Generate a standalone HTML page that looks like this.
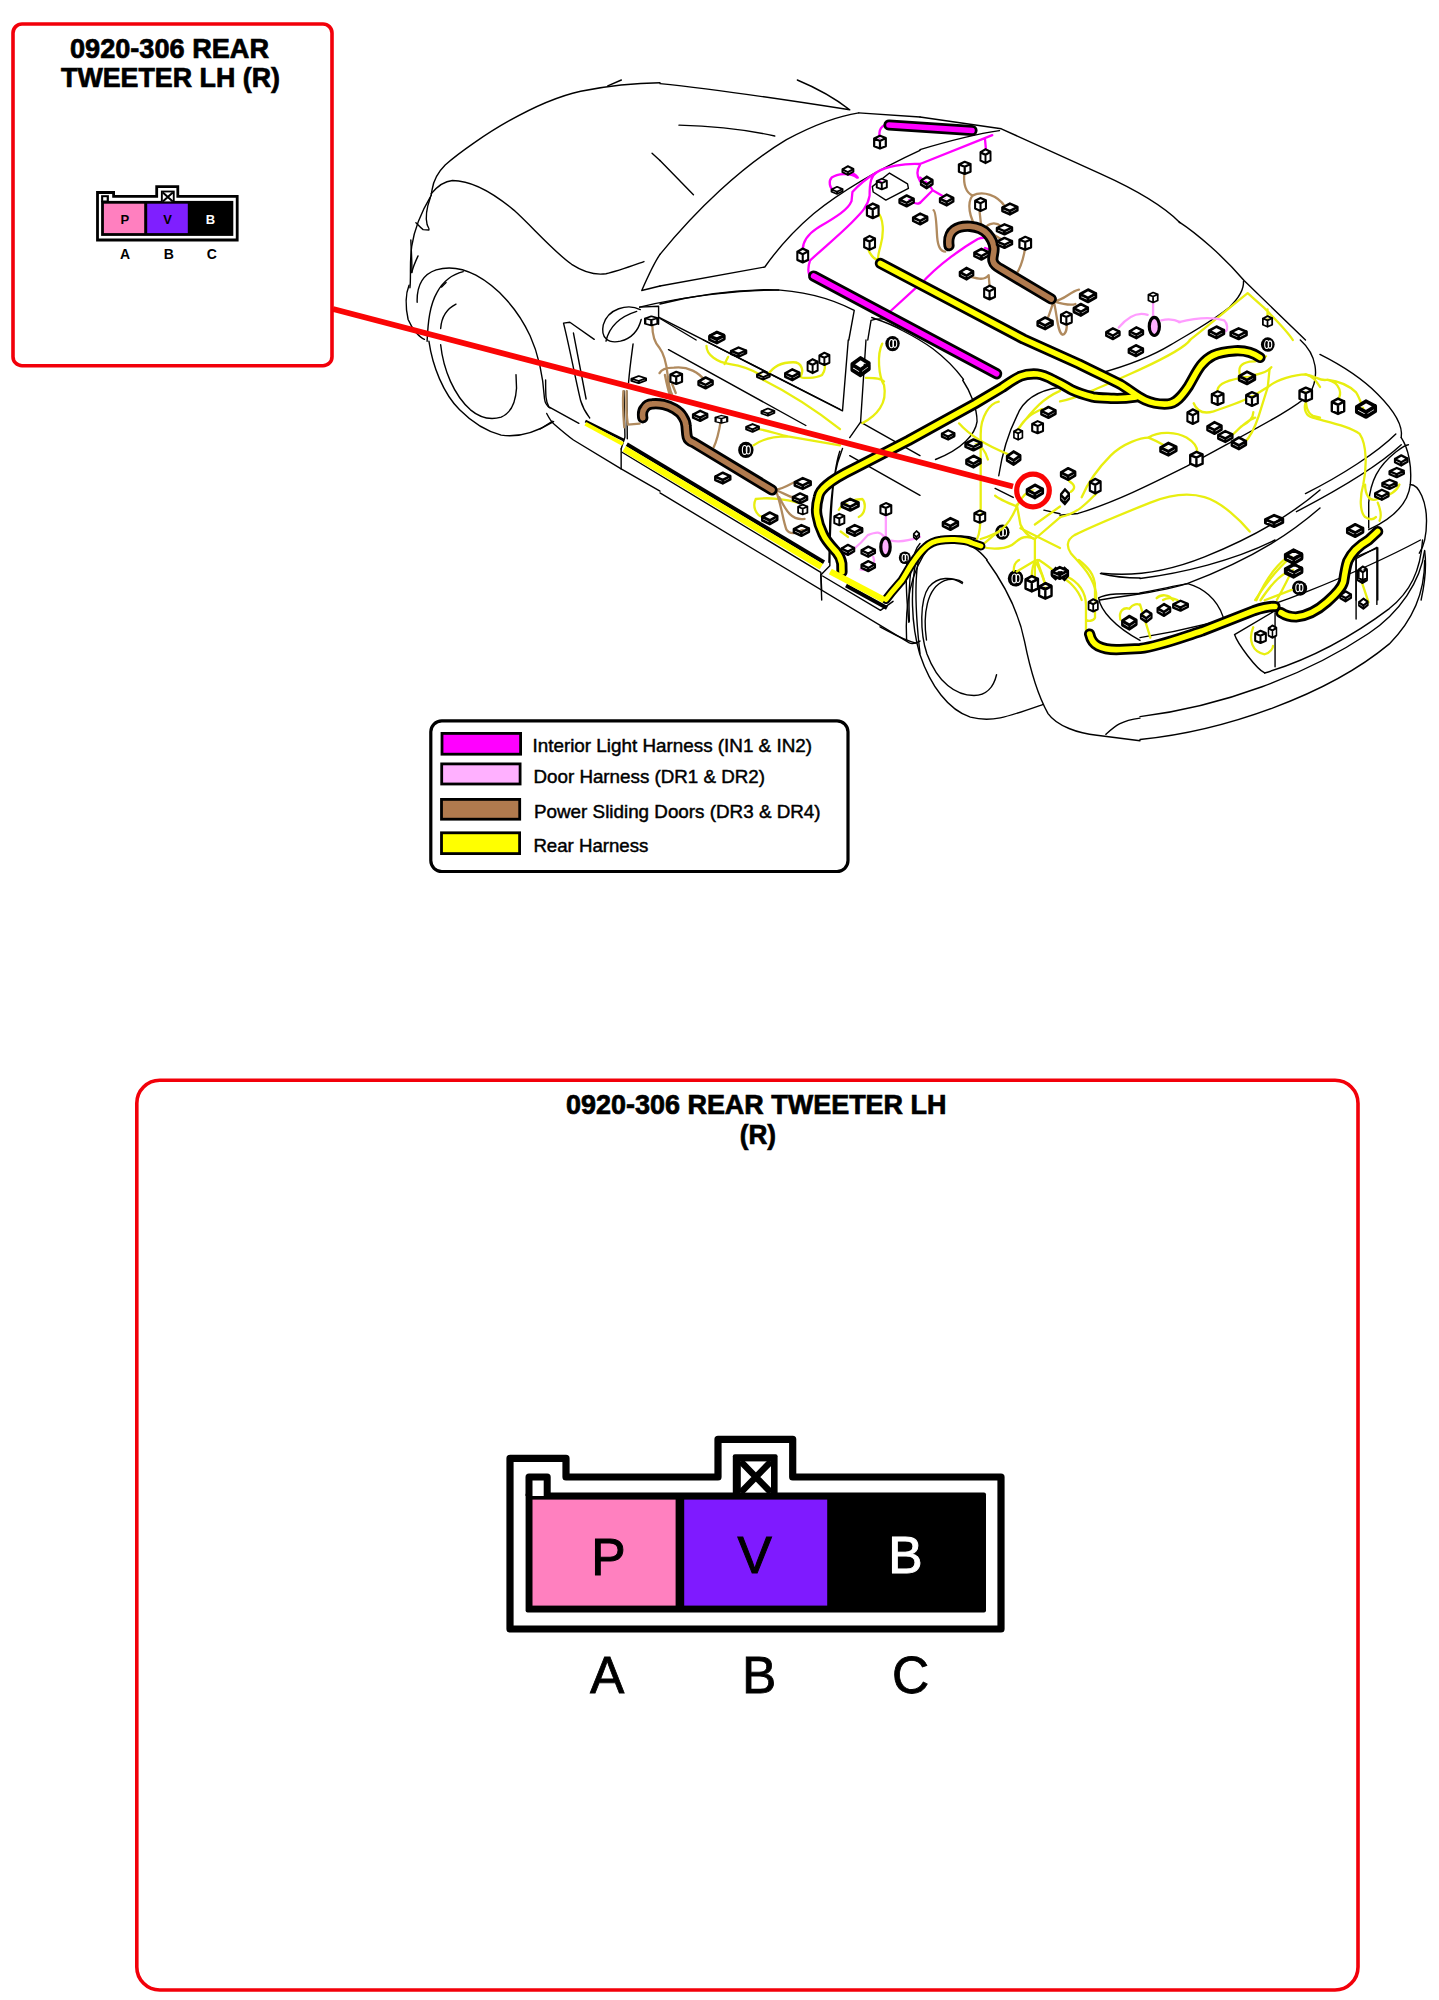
<!DOCTYPE html>
<html><head><meta charset="utf-8">
<style>
html,body{margin:0;padding:0;background:#fff;width:1439px;height:2000px;overflow:hidden}
svg{display:block;position:absolute;left:0;top:0}
text{font-family:"Liberation Sans",sans-serif}
</style></head><body>
<svg width="1439" height="2000" viewBox="0 0 1439 2000">
<rect x="0" y="0" width="1439" height="2000" fill="#fff"/>
<defs>
<symbol id="cn" viewBox="0 0 14 16" preserveAspectRatio="none" overflow="visible"><path d="M1,4.5 L7,1.5 L13,4 L13,12.5 L7,15 L1,12.5 Z M1,4.5 L7,7 L13,4 M7,7 L7,15" fill="#fff" stroke="#000" stroke-width="2.3" stroke-linejoin="round"/></symbol>
<symbol id="cf" viewBox="0 0 16 12" preserveAspectRatio="none" overflow="visible"><path d="M1,5 L8,1.5 L15,4.5 L15,7.5 L8,11 L1,8 Z M1,5 L8,8 L15,4.5 M8,8 L8,11" fill="#fff" stroke="#000" stroke-width="2.3" stroke-linejoin="round"/></symbol>
</defs>

<!-- CAR -->
<g id="car" fill="none" stroke="#000" stroke-width="1.4" stroke-linecap="round" stroke-linejoin="round">
<g transform="translate(400,80) scale(0.180681)"><path vector-effect="non-scaling-stroke" d="M1439,15 C1300,16 1150,32 1000,62 C850,95 720,160 600,228 C480,295 330,400 250,470 C205,515 185,560 178,605 C176,615 174,630 172,640"/><path vector-effect="non-scaling-stroke" d="M172,640 C130,710 80,820 65,920 C52,1010 62,1090 55,1150"/><path vector-effect="non-scaling-stroke" d="M1150,32 L1225,0"/><path vector-effect="non-scaling-stroke" d="M168,650 C150,700 140,760 150,800 C155,815 165,825 160,830 L128,828 C110,815 100,800 88,790"/><path vector-effect="non-scaling-stroke" d="M172,630 C205,590 240,560 290,556 C390,556 510,620 630,720 C730,810 850,950 950,1020 C1020,1065 1090,1080 1140,1072 C1200,1060 1280,1030 1350,1005"/><path vector-effect="non-scaling-stroke" d="M1439,965 C1406,1013 1373,1085 1338,1165 L1439,1140"/><path vector-effect="non-scaling-stroke" d="M1395,405 L1439,445"/></g>
<g transform="translate(400,240) scale(0.180681)"><path vector-effect="non-scaling-stroke" d="M60,0 C62,60 68,130 65,180"/><path vector-effect="non-scaling-stroke" d="M100,88 C85,120 72,150 65,180"/><path vector-effect="non-scaling-stroke" d="M50,250 C30,300 28,360 45,440 C70,500 110,540 135,550"/><path vector-effect="non-scaling-stroke" d="M95,345 C92,250 125,190 200,165 C270,145 345,155 420,195 C540,260 650,380 720,530 C770,640 792,760 800,880 C803,905 812,918 830,930"/><path vector-effect="non-scaling-stroke" d="M150,560 C155,450 165,360 205,290 C240,225 290,190 350,175"/><path vector-effect="non-scaling-stroke" d="M230,260 L255,235"/><path vector-effect="non-scaling-stroke" d="M225,490 C230,420 260,380 310,355"/><path vector-effect="non-scaling-stroke" d="M160,560 C180,700 240,850 330,940 C400,1010 480,1060 560,1080 C660,1095 760,1060 850,1005"/><path vector-effect="non-scaling-stroke" d="M225,580 C240,720 300,860 390,940 C450,990 510,995 560,980 C610,960 640,900 645,820 L642,745"/><path vector-effect="non-scaling-stroke" d="M806,775 C806,860 806,895 824,923 L990,1015"/><path vector-effect="non-scaling-stroke" d="M812,960 C830,995 840,1010 855,1021 C900,1060 930,1085 960,1107 L1224,1267 L1439,1390"/><path vector-effect="non-scaling-stroke" d="M775,1046 L843,1003"/><path vector-effect="non-scaling-stroke" d="M1224,1156 L1224,1267"/><path vector-effect="non-scaling-stroke" d="M905,460 C940,600 975,790 1000,890 C1015,940 1035,965 1050,985 M960,515 C985,650 1010,780 1030,880 M905,460 L940,455 L1075,550"/><path vector-effect="non-scaling-stroke" d="M1330,385 C1260,350 1150,380 1125,470 C1110,540 1150,575 1220,560 C1280,545 1320,500 1335,440 M1310,395 C1230,420 1160,470 1140,560"/><path vector-effect="non-scaling-stroke" d="M1290,575 C1280,650 1270,720 1265,790"/><path vector-effect="non-scaling-stroke" d="M1240,835 L1245,1090 L1224,1156 M1255,835 L1258,1100"/></g>
<g transform="translate(660,80) scale(0.180681)"><path vector-effect="non-scaling-stroke" d="M0,20 C300,50 700,110 1050,165 M760,0 C880,50 980,110 1050,165 M1100,182 L1439,205"/><path vector-effect="non-scaling-stroke" d="M0,965 C200,720 450,480 700,330 C850,250 980,200 1100,182"/><path vector-effect="non-scaling-stroke" d="M0,1140 L580,1035 C640,950 720,850 850,740 C1000,620 1200,500 1439,390"/><path vector-effect="non-scaling-stroke" d="M105,250 C300,255 500,280 635,310 M0,445 L185,635"/><path vector-effect="non-scaling-stroke" d="M0,1240 C150,1200 350,1165 600,1160 C800,1165 950,1210 1075,1275 L1045,1439 M0,1320 L200,1439"/><path vector-effect="non-scaling-stroke" d="M1150,1439 L1168,1330 C1230,1310 1330,1330 1439,1370"/><path vector-effect="non-scaling-stroke" d="M1175,590 L1270,515 L1370,575 L1375,600 L1250,665 L1180,620 Z"/></g>
<g transform="translate(920,80) scale(0.180681)"><path vector-effect="non-scaling-stroke" d="M0,205 L450,270 C600,340 800,430 1000,520 C1200,610 1350,700 1439,790"/><path vector-effect="non-scaling-stroke" d="M0,385 C150,340 300,300 440,280"/></g>
<g transform="translate(1179,80) scale(0.180681)"><path vector-effect="non-scaling-stroke" d="M0,785 C100,850 250,980 360,1110 L700,1439"/><path vector-effect="non-scaling-stroke" transform="scale(5.535)" d="M-79,293.2 C-60,288 -30,278 -8.4,264.9 C20,248 35,240 50.4,227.2 C60,218 65,210 64.5,201.3"/></g>
<g transform="translate(660,340) scale(0.180681)"><path vector-effect="non-scaling-stroke" d="M240,0 L1010,392 L1042,0"/><path vector-effect="non-scaling-stroke" d="M1140,0 L1110,455 L1050,540 M1110,455 L1439,640"/><path vector-effect="non-scaling-stroke" d="M1050,640 L1439,860"/><path vector-effect="non-scaling-stroke" d="M1010,600 C970,700 950,800 940,1000 L935,1230 M995,615 C960,720 942,900 940,1250 L890,1300 L895,1439"/><ellipse cx="1355.0" cy="1205.0" rx="33.25" ry="35.0" fill="#000" stroke="none"/><ellipse cx="1349.75" cy="1205.0" rx="9.8" ry="19.25" fill="none" stroke="#fff" stroke-width="1.1" vector-effect="non-scaling-stroke"/><ellipse cx="1365.5" cy="1205.0" rx="8.75" ry="17.5" fill="none" stroke="#fff" stroke-width="1.1" vector-effect="non-scaling-stroke"/><ellipse cx="1287" cy="20" rx="39.9" ry="42" fill="#000" stroke="none"/><ellipse cx="1280.7" cy="20" rx="11.760000000000002" ry="23.1" fill="none" stroke="#fff" stroke-width="1.1" vector-effect="non-scaling-stroke"/><ellipse cx="1299.6" cy="20" rx="10.5" ry="21.0" fill="none" stroke="#fff" stroke-width="1.1" vector-effect="non-scaling-stroke"/></g>
<g transform="translate(800,380) scale(0.180681)"><path vector-effect="non-scaling-stroke" d="M900,0 C940,60 980,150 980,230 C970,300 900,380 750,440"/><path vector-effect="non-scaling-stroke" d="M1439,40 C1300,60 1230,120 1200,200 C1150,300 1120,400 1100,530"/><path vector-effect="non-scaling-stroke" d="M1080,600 L1180,650 M1350,720 L1439,740"/><path vector-effect="non-scaling-stroke" d="M590,1439 C580,1250 610,1050 720,920 C800,860 900,850 980,880"/><path vector-effect="non-scaling-stroke" d="M860,900 C930,895 990,940 1035,995"/><path vector-effect="non-scaling-stroke" d="M700,1439 C680,1300 700,1150 800,1110 C840,1095 880,1105 900,1120"/><ellipse cx="1120.0" cy="842.0" rx="39.9" ry="42.0" fill="#000" stroke="none"/><ellipse cx="1113.7" cy="842.0" rx="11.760000000000002" ry="23.1" fill="none" stroke="#fff" stroke-width="1.1" vector-effect="non-scaling-stroke"/><ellipse cx="1132.6" cy="842.0" rx="10.5" ry="21.0" fill="none" stroke="#fff" stroke-width="1.1" vector-effect="non-scaling-stroke"/><ellipse cx="1195.0" cy="1095.0" rx="39.9" ry="42.0" fill="#000" stroke="none"/><ellipse cx="1188.7" cy="1095.0" rx="11.760000000000002" ry="23.1" fill="none" stroke="#fff" stroke-width="1.1" vector-effect="non-scaling-stroke"/><ellipse cx="1207.6" cy="1095.0" rx="10.5" ry="21.0" fill="none" stroke="#fff" stroke-width="1.1" vector-effect="non-scaling-stroke"/></g>
<g transform="translate(1060,340) scale(0.180681)"><path vector-effect="non-scaling-stroke" d="M1330,0 C1420,80 1440,200 1380,300 C1300,380 1100,480 700,700 C500,800 300,900 100,960 L0,970"/><path vector-effect="non-scaling-stroke" d="M1439,830 C1300,950 1100,1080 800,1200 C600,1280 400,1310 230,1290"/><path vector-effect="non-scaling-stroke" d="M1439,930 C1300,1050 1100,1200 700,1350 C500,1410 300,1420 220,1439"/><ellipse cx="1150.0" cy="25.0" rx="38.0" ry="40.0" fill="#000" stroke="none"/><ellipse cx="1144.0" cy="25.0" rx="11.200000000000001" ry="22.0" fill="none" stroke="#fff" stroke-width="1.1" vector-effect="non-scaling-stroke"/><ellipse cx="1162.0" cy="25.0" rx="10.0" ry="20.0" fill="none" stroke="#fff" stroke-width="1.1" vector-effect="non-scaling-stroke"/><ellipse cx="1330.0" cy="1375.0" rx="38.0" ry="40.0" fill="#000" stroke="none"/><ellipse cx="1324.0" cy="1375.0" rx="11.200000000000001" ry="22.0" fill="none" stroke="#fff" stroke-width="1.1" vector-effect="non-scaling-stroke"/><ellipse cx="1342.0" cy="1375.0" rx="10.0" ry="20.0" fill="none" stroke="#fff" stroke-width="1.1" vector-effect="non-scaling-stroke"/></g>
<g transform="translate(1179,340) scale(0.180681)"><path vector-effect="non-scaling-stroke" d="M780,80 C880,130 1000,200 1100,300 C1200,400 1240,480 1230,540"/><path vector-effect="non-scaling-stroke" d="M1200,520 C1100,620 900,750 700,850 M1230,580 C1100,700 900,820 650,950"/><path vector-effect="non-scaling-stroke" d="M1230,540 C1270,600 1290,700 1280,800 C1270,900 1200,980 1050,1050 M1050,1040 L1050,900 C1060,780 1100,700 1200,620 C1240,590 1260,580 1270,580"/><path vector-effect="non-scaling-stroke" d="M1280,800 C1330,800 1370,900 1370,1000 C1370,1100 1350,1150 1330,1180 M1360,1170 C1370,1250 1360,1350 1340,1439"/><path vector-effect="non-scaling-stroke" d="M1100,1439 L1100,1150 L980,1200 L980,1439"/></g>
<g transform="translate(880,560) scale(0.180681)"><path vector-effect="non-scaling-stroke" d="M200,0 C170,150 170,350 220,520 C280,700 380,830 500,870 C620,900 700,870 900,800"/><path vector-effect="non-scaling-stroke" d="M455,130 C400,90 320,90 270,150 C220,220 220,400 260,520 C320,680 420,750 520,750 C590,750 630,700 645,635"/><path vector-effect="non-scaling-stroke" d="M590,0 C700,150 770,300 800,450 C830,600 880,760 930,850 C980,920 1100,960 1200,970 L1439,1000"/><path vector-effect="non-scaling-stroke" d="M1250,965 C1300,920 1330,890 1439,875"/><path vector-effect="non-scaling-stroke" d="M150,0 C140,100 150,250 160,345 M0,370 C60,400 120,440 200,460"/><path vector-effect="non-scaling-stroke" d="M1220,75 C1300,95 1380,100 1439,100 M1439,185 C1350,185 1250,185 1210,210 C1220,280 1300,370 1439,445"/><ellipse cx="750.0" cy="102.0" rx="42.75" ry="45.0" fill="#000" stroke="none"/><ellipse cx="743.25" cy="102.0" rx="12.600000000000001" ry="24.750000000000004" fill="none" stroke="#fff" stroke-width="1.1" vector-effect="non-scaling-stroke"/><ellipse cx="763.5" cy="102.0" rx="11.25" ry="22.5" fill="none" stroke="#fff" stroke-width="1.1" vector-effect="non-scaling-stroke"/></g>
<g transform="translate(1140,540) scale(0.207783)"><path vector-effect="non-scaling-stroke" d="M0,185 C200,160 450,100 650,0"/><path vector-effect="non-scaling-stroke" d="M0,255 C100,235 200,215 230,210 C300,230 370,280 400,370"/><path vector-effect="non-scaling-stroke" d="M0,470 C300,420 550,350 800,250 C1000,170 1200,80 1350,0"/><path vector-effect="non-scaling-stroke" d="M455,455 C470,500 560,620 600,640 M650,350 L650,610 M1040,90 L1040,380 M1140,40 L1140,310 M455,455 L650,340 M1040,90 L1140,35"/><path vector-effect="non-scaling-stroke" d="M0,850 C400,800 800,650 1100,450 C1250,350 1350,200 1370,50 M0,960 C400,920 900,750 1200,500 C1320,380 1370,250 1370,100 M600,640 C800,580 1000,480 1200,330 C1300,250 1350,150 1360,0"/><ellipse cx="765.0" cy="230.0" rx="33.25" ry="35.0" fill="#000" stroke="none"/><ellipse cx="759.75" cy="230.0" rx="9.8" ry="19.25" fill="none" stroke="#fff" stroke-width="1.1" vector-effect="non-scaling-stroke"/><ellipse cx="775.5" cy="230.0" rx="8.75" ry="17.5" fill="none" stroke="#fff" stroke-width="1.1" vector-effect="non-scaling-stroke"/></g>
<g transform="translate(660,520) scale(0.180681)"><path vector-effect="non-scaling-stroke" d="M0,-150 L1380,680 C1400,690 1420,680 1439,670"/><path vector-effect="non-scaling-stroke" d="M-210,-375 L890,290 L895,390 M900,310 L1220,500 L1290,450"/><path vector-effect="non-scaling-stroke" d="M1439,130 C1400,170 1370,300 1380,560 M1439,200 C1420,240 1400,400 1439,740"/></g>
<g transform="translate(580,290) scale(0.180681)"><path vector-effect="non-scaling-stroke" d="M330,95 L435,90 L435,190"/><path vector-effect="non-scaling-stroke" d="M330,95 C600,30 900,0 1100,0"/><path vector-effect="non-scaling-stroke" d="M435,150 L1439,660"/><path vector-effect="non-scaling-stroke" d="M490,330 L1250,750"/><ellipse cx="918.0" cy="885.0" rx="42.75" ry="45.0" fill="#000" stroke="none"/><ellipse cx="911.25" cy="885.0" rx="12.600000000000001" ry="24.750000000000004" fill="none" stroke="#fff" stroke-width="1.1" vector-effect="non-scaling-stroke"/><ellipse cx="931.5" cy="885.0" rx="11.25" ry="22.5" fill="none" stroke="#fff" stroke-width="1.1" vector-effect="non-scaling-stroke"/></g>
<g transform="translate(0,0) scale(0.180681)"><path vector-effect="non-scaling-stroke" transform="scale(5.534615)" d="M871.7,317.5 C885,322 895,326 902.3,330.5 C915,337 925,343 932.9,348.8 C945,358 955,368 963.5,379.4"/></g>
<g transform="translate(660,80) scale(0.180681)"><path vector-effect="non-scaling-stroke" stroke="#ff00ff" stroke-width="2.3" d="M1215,320 C1210,280 1220,245 1280,240"/><path vector-effect="non-scaling-stroke" stroke="#ff00ff" stroke-width="2.3" d="M1090,540 C1050,510 980,520 950,540 C930,560 940,600 960,610 M1040,510 C1070,515 1085,525 1095,540"/><path vector-effect="non-scaling-stroke" stroke="#ff00ff" stroke-width="2.3" d="M1439,465 C1350,460 1250,480 1200,510 C1150,540 1100,580 1065,620 L1060,670 C1040,720 970,760 870,820 C810,860 790,900 790,940"/><path vector-effect="non-scaling-stroke" stroke="#ff00ff" stroke-width="2.3" d="M1200,510 C1170,530 1160,560 1160,640 C1150,700 1120,730 1060,790 C980,870 880,950 830,1000 C820,1030 820,1060 825,1075"/><path vector-effect="non-scaling-stroke" stroke="#ff00ff" stroke-width="2.3" d="M1439,470 C1420,500 1420,530 1439,560 M1380,660 C1400,680 1420,690 1439,680 M1439,1130 L1275,1280 M1220,560 L1230,590"/><path vector-effect="non-scaling-stroke" stroke="#e8ee10" stroke-width="2.3" d="M1200,730 C1240,760 1240,850 1220,920 C1210,960 1200,990 1210,1000 M1150,930 C1160,960 1180,990 1210,1000"/></g>
<g transform="translate(920,80) scale(0.180681)"><path vector-effect="non-scaling-stroke" stroke="#ff00ff" stroke-width="2.3" d="M0,465 L400,305 M360,330 L365,385"/><path vector-effect="non-scaling-stroke" stroke="#ff00ff" stroke-width="2.3" d="M0,540 C30,560 60,590 70,610 L140,650 M0,680 L70,610"/><path vector-effect="non-scaling-stroke" stroke="#ff00ff" stroke-width="2.3" d="M0,1135 C100,1020 250,920 320,880 C370,860 410,890 410,920 C400,940 380,940 360,930"/><path vector-effect="non-scaling-stroke" stroke="#b08a5e" stroke-width="2.3" d="M245,520 C240,580 250,620 290,640 C260,680 270,760 320,830"/><path vector-effect="non-scaling-stroke" stroke="#b08a5e" stroke-width="2.3" d="M290,640 C350,610 430,640 470,700 M330,730 L340,820"/><path vector-effect="non-scaling-stroke" stroke="#b08a5e" stroke-width="2.3" d="M360,820 C380,790 420,785 450,810 M360,830 C400,850 430,870 450,880"/><path vector-effect="non-scaling-stroke" stroke="#b08a5e" stroke-width="2.3" d="M75,720 C90,730 90,800 95,870 C100,930 120,950 140,950"/><path vector-effect="non-scaling-stroke" stroke="#b08a5e" stroke-width="2.3" d="M580,940 C570,1000 550,1050 530,1080"/><path vector-effect="non-scaling-stroke" stroke="#b08a5e" stroke-width="2.3" d="M280,1090 C320,1100 360,1110 380,1080 L385,1140"/><path vector-effect="non-scaling-stroke" stroke="#b08a5e" stroke-width="2.3" d="M740,1225 C800,1220 830,1170 880,1160 M740,1225 C790,1240 830,1250 860,1240"/><path vector-effect="non-scaling-stroke" stroke="#b08a5e" stroke-width="2.3" d="M740,1225 C760,1300 760,1400 790,1410 C820,1400 810,1350 815,1320 M740,1225 C720,1280 710,1320 700,1330"/><path vector-effect="non-scaling-stroke" stroke="#ff9cff" stroke-width="2.3" d="M1100,1370 C1150,1310 1200,1280 1260,1300 M1290,1230 L1290,1310 M1335,1330 C1380,1320 1420,1330 1439,1340"/></g>
<g transform="translate(1179,80) scale(0.180681)"><path vector-effect="non-scaling-stroke" stroke="#e8ee10" stroke-width="2.3" d="M60,1439 C150,1370 280,1260 380,1180 L470,1260 C540,1330 600,1390 630,1439 M490,1270 L490,1330"/><path vector-effect="non-scaling-stroke" stroke="#ff9cff" stroke-width="2.3" d="M0,1340 C80,1320 180,1310 250,1330 C270,1350 270,1380 260,1390"/></g>
<g transform="translate(660,340) scale(0.180681)"><path vector-effect="non-scaling-stroke" stroke="#e8ee10" stroke-width="2.3" d="M1230,20 C1200,80 1210,200 1240,250 C1260,350 1200,420 1120,460 M1140,210 C1180,210 1220,210 1240,230"/><path vector-effect="non-scaling-stroke" stroke="#e8ee10" stroke-width="2.3" d="M530,880 C510,920 530,970 570,980 M530,880 C600,870 700,880 760,900"/><path vector-effect="non-scaling-stroke" stroke="#e8ee10" stroke-width="2.3" d="M990,940 C1010,900 1080,880 1120,880 C1140,900 1140,960 1100,980 M1000,1060 L1040,1090"/><path vector-effect="non-scaling-stroke" stroke="#b08a5e" stroke-width="2.3" d="M640,830 C700,820 740,780 770,780 M640,830 C690,850 720,870 760,880 M640,830 C670,900 680,1000 700,1050 C720,1080 760,1070 790,1050 M660,870 C700,950 730,1000 800,990"/><path vector-effect="non-scaling-stroke" stroke="#ff9cff" stroke-width="2.3" d="M1000,1200 C1050,1180 1100,1140 1150,1080 C1200,1060 1220,1060 1240,1090 M1250,970 L1250,1090 M1280,1110 C1320,1120 1380,1110 1439,1090"/><path vector-effect="non-scaling-stroke" stroke="#ff9cff" stroke-width="2.3" d="M1110,1270 C1150,1280 1200,1250 1180,1200 M990,1200 C1010,1170 1040,1170 1060,1180"/></g>
<g transform="translate(800,380) scale(0.180681)"><path vector-effect="non-scaling-stroke" stroke="#e8ee10" stroke-width="2.3" d="M1000,720 L1000,300 C1000,200 1050,130 1100,120 M1000,730 C1000,800 990,860 980,880"/><path vector-effect="non-scaling-stroke" stroke="#e8ee10" stroke-width="2.3" d="M1439,60 C1350,100 1300,150 1200,280 M1210,270 C1250,200 1300,180 1340,160"/><path vector-effect="non-scaling-stroke" stroke="#e8ee10" stroke-width="2.3" d="M880,240 C950,320 1050,370 1150,410 M960,340 C1000,360 1030,400 1040,440"/><path vector-effect="non-scaling-stroke" stroke="#e8ee10" stroke-width="2.3" d="M1000,880 C1100,850 1150,820 1200,700 C1220,650 1250,620 1300,600 M1200,690 L1220,800 C1240,850 1290,880 1300,880 L1439,760"/><path vector-effect="non-scaling-stroke" stroke="#e8ee10" stroke-width="2.3" d="M1000,920 C1050,940 1150,940 1190,900 C1220,870 1260,860 1300,880 L1300,1000 L1200,1060 M1300,1000 L1300,1100 M1300,1000 C1330,1050 1350,1100 1360,1150 M1000,920 C1050,880 1080,850 1100,840"/><path vector-effect="non-scaling-stroke" stroke="#e8ee10" stroke-width="2.3" d="M1200,700 C1150,680 1100,660 1080,640 M1439,700 L1300,800 M1220,820 L1439,930"/></g>
<g transform="translate(1060,340) scale(0.180681)"><path vector-effect="non-scaling-stroke" stroke="#e8ee10" stroke-width="2.3" d="M0,340 C100,320 250,250 450,160 C600,90 700,30 720,0"/><path vector-effect="non-scaling-stroke" stroke="#e8ee10" stroke-width="2.3" d="M870,290 C870,250 900,230 1000,210 C1100,190 1150,180 1170,150 M1000,210 C980,150 1000,130 1050,120 C1100,120 1130,100 1140,90"/><path vector-effect="non-scaling-stroke" stroke="#e8ee10" stroke-width="2.3" d="M740,350 C760,400 800,410 850,395 C950,360 1050,330 1150,260 C1200,220 1300,190 1360,190 C1400,200 1420,230 1439,260"/><path vector-effect="non-scaling-stroke" stroke="#e8ee10" stroke-width="2.3" d="M1160,160 L1150,260 L1100,420 C1080,480 1050,540 1020,570 M1000,480 C1060,450 1070,420 1070,400 M960,520 C1000,480 1050,440 1080,430"/><path vector-effect="non-scaling-stroke" stroke="#e8ee10" stroke-width="2.3" d="M1360,290 C1360,350 1360,400 1400,420 L1439,430"/><path vector-effect="non-scaling-stroke" stroke="#e8ee10" stroke-width="2.3" d="M490,540 C550,500 650,510 700,540 C750,570 760,600 760,620 M490,540 C540,560 570,580 590,590"/><path vector-effect="non-scaling-stroke" stroke="#e8ee10" stroke-width="2.3" d="M0,980 C100,960 150,900 200,850 M120,870 C150,800 200,720 280,640 C350,570 450,540 490,540 M50,780 C80,800 90,820 60,840"/><path vector-effect="non-scaling-stroke" stroke="#e8ee10" stroke-width="2.3" d="M1050,1060 C1000,1000 900,900 800,870 C700,840 600,860 500,900 C350,960 200,1020 80,1080 C30,1110 40,1150 60,1180 C120,1250 180,1300 200,1400 L200,1439"/><path vector-effect="non-scaling-stroke" stroke="#e8ee10" stroke-width="2.3" d="M0,1310 C50,1330 100,1380 120,1439"/><path vector-effect="non-scaling-stroke" stroke="#e8ee10" stroke-width="2.3" d="M1080,1439 C1150,1330 1220,1250 1280,1200 M1200,1439 C1250,1350 1270,1300 1290,1270 M570,1439 C600,1420 630,1430 650,1439"/></g>
<g transform="translate(1179,340) scale(0.180681)"><path vector-effect="non-scaling-stroke" stroke="#e8ee10" stroke-width="2.3" d="M700,190 C760,200 780,230 820,220 C900,240 900,300 880,330 M820,220 C900,230 950,260 980,290 C1000,320 1010,360 1020,380"/><path vector-effect="non-scaling-stroke" stroke="#e8ee10" stroke-width="2.3" d="M700,350 C690,380 700,420 740,430 C850,460 950,480 1000,520 C1040,580 1040,700 1020,800 C1000,870 1000,950 1030,980 C1060,1000 1080,990 1090,980"/><path vector-effect="non-scaling-stroke" stroke="#e8ee10" stroke-width="2.3" d="M1030,800 C1030,850 1050,900 1100,880 C1150,860 1200,850 1220,800 M1100,900 C1120,950 1120,980 1110,1000"/></g>
<g transform="translate(880,560) scale(0.180681)"><path vector-effect="non-scaling-stroke" stroke="#e8ee10" stroke-width="2.3" d="M740,60 C740,30 750,10 770,0 M840,90 C840,50 850,20 860,0 M910,120 C900,80 880,40 870,0 M960,60 C940,40 910,20 880,0"/><path vector-effect="non-scaling-stroke" stroke="#e8ee10" stroke-width="2.3" d="M1030,90 C1100,120 1140,180 1140,250 L1140,390 M1100,0 C1150,40 1190,80 1190,150 L1190,320 C1180,340 1150,340 1140,330"/><path vector-effect="non-scaling-stroke" stroke="#e8ee10" stroke-width="2.3" d="M1330,330 C1320,280 1350,260 1380,270 C1400,240 1430,240 1439,250"/></g>
<g transform="translate(1140,540) scale(0.207783)"><path vector-effect="non-scaling-stroke" stroke="#e8ee10" stroke-width="2.3" d="M560,290 C600,200 650,130 700,90 M580,290 C620,230 660,180 700,160 M600,290 L730,240"/><path vector-effect="non-scaling-stroke" stroke="#e8ee10" stroke-width="2.3" d="M545,420 C520,480 540,540 600,550 C630,540 640,520 640,510 M1060,180 L1100,300"/><path vector-effect="non-scaling-stroke" stroke="#e8ee10" stroke-width="2.3" d="M0,310 L50,470 M80,280 C100,260 140,260 160,290"/></g>
<g transform="translate(580,290) scale(0.180681)"><path vector-effect="non-scaling-stroke" stroke="#b08a5e" stroke-width="2.3" d="M400,190 C400,250 410,290 440,320 C470,360 480,420 485,470 C490,520 500,560 510,580 M440,460 C450,440 480,430 520,430 C600,420 660,460 690,500 M470,470 C480,520 490,560 500,590 M510,520 L530,570"/><path vector-effect="non-scaling-stroke" stroke="#b08a5e" stroke-width="2.3" d="M240,560 C235,620 240,700 245,760 M258,560 C255,640 258,700 265,745 L330,740"/><path vector-effect="non-scaling-stroke" stroke="#b08a5e" stroke-width="2.3" d="M780,720 C770,780 760,830 740,870"/><path vector-effect="non-scaling-stroke" stroke="#e8ee10" stroke-width="2.3" d="M700,310 C700,360 760,400 830,410 C900,420 950,440 1000,470 M820,370 L800,410"/><path vector-effect="non-scaling-stroke" stroke="#e8ee10" stroke-width="2.3" d="M1040,470 C1070,420 1120,400 1180,400 C1230,400 1240,450 1220,480 C1230,490 1300,490 1340,470 C1360,440 1360,420 1350,400"/><path vector-effect="non-scaling-stroke" stroke="#e8ee10" stroke-width="2.3" d="M1000,490 C1100,540 1250,620 1439,770"/><path vector-effect="non-scaling-stroke" stroke="#e8ee10" stroke-width="2.3" d="M960,860 C1000,830 1050,810 1150,810 L1439,860 M990,770 C1050,780 1100,800 1150,810"/></g>
<g stroke-linecap="round"><path stroke-width="11.2" d="M889,125 L972,130.5"/><path stroke-width="11.2" d="M813.6,276 L996.7,373.8"/><path stroke-width="11.2" d="M880.4,263.4 L1023.4,339 L1079,364 C1095,372 1110,379 1120.7,384.5 C1130,390 1136,396 1145,400 C1152,403 1160,404.5 1167.6,404 C1176,403.5 1182,396 1188.5,386.3 C1194,377 1196,372 1201,365.4 C1208,357 1215,352 1235,350.8 C1248,350 1255,354 1260,357.5"/><path stroke-width="11.2" d="M1136,397 C1125,398.5 1118,398.6 1113.7,398.4 C1105,398 1098,398 1092.9,397 C1085,395 1078,393 1072,390 C1065,386 1060,383 1054,380.3 C1048,377 1043,374.5 1037.3,374 C1030,373.5 1026,374 1020.6,376.1 C1014,379 1008,383.5 1002.5,387.3 L974.7,403.9 L908.4,440.5 L854.2,468.5 C845,473 835,478 827.1,484.8 C822,489 819,493 818.5,497 C816.5,504 816,510 817,515.5 C818,522 820,528 823,534 C826,541 831,546 836.5,552 C839,555 841,559 841.8,563.4 L842,572"/><path stroke-width="2.8" stroke-linecap="butt" d="M585.3,421 L624.2,440.3"/><path stroke-width="4" stroke-linecap="butt" d="M626.8,444.3 L824,562.2"/><path stroke-width="4" stroke-linecap="butt" d="M846,585.5 L887,608"/><path stroke-width="9" d="M886,599.5 C893,590 898,585 901.7,580.6 C906,574 909,568 912.8,562.5 C917,556 921,551 925.3,547.3 C930,543 935,541 940.6,540.3 C945,539.5 950,539.5 954.5,539.6 C962,540 968,541 972,543 L980.9,546"/><path stroke-width="11.2" d="M949,245.7 C948,238 950,233 954,230 C958,227 965,226 970,226.3 C978,227 984,230 987.5,234 C991,238 993.5,242 994,248 C994.5,253 992,257 993,261 C994,265 997,267 1001,269 L1051.3,299"/><path stroke-width="11.2" d="M642.8,417.8 C642,413 643,410 644.5,408.3 C646,405.5 649,404 652.2,403.9 C656,403.5 660,403.8 663.4,404.5 C667,405.3 671,406.8 674.5,408.9 C678,411 681,413.5 682.8,416.7 C685,420 686,423 686.1,426.1 C686.5,430 686.5,434 687.3,437.2 C688,440 690,441.5 693.9,442.8 L772,490"/><path stroke-width="11.2" d="M1089.6,634 C1091,640 1094,644 1098,646 C1104,649 1110,650 1120,649.5 L1140,648.5 C1160,646 1180,638 1202,631 L1254,610.6 C1262,608 1270,606 1275,606.5 M1281,612.7 C1286,616 1290,617 1296,617 C1306,616 1318,610 1327,602 C1336,594 1342,588 1343.6,581.6 C1345,572 1346,566 1347.8,561 C1352,552 1360,545 1368.6,540 L1377.7,531.5"/><path stroke="#ff00ff" stroke-width="5.6" d="M889,125 L972,130.5"/><path stroke="#ff00ff" stroke-width="5.6" d="M813.6,276 L996.7,373.8"/><path stroke="#ffff00" stroke-width="5.6" d="M880.4,263.4 L1023.4,339 L1079,364 C1095,372 1110,379 1120.7,384.5 C1130,390 1136,396 1145,400 C1152,403 1160,404.5 1167.6,404 C1176,403.5 1182,396 1188.5,386.3 C1194,377 1196,372 1201,365.4 C1208,357 1215,352 1235,350.8 C1248,350 1255,354 1260,357.5"/><path stroke="#ffff00" stroke-width="5.6" d="M1136,397 C1125,398.5 1118,398.6 1113.7,398.4 C1105,398 1098,398 1092.9,397 C1085,395 1078,393 1072,390 C1065,386 1060,383 1054,380.3 C1048,377 1043,374.5 1037.3,374 C1030,373.5 1026,374 1020.6,376.1 C1014,379 1008,383.5 1002.5,387.3 L974.7,403.9 L908.4,440.5 L854.2,468.5 C845,473 835,478 827.1,484.8 C822,489 819,493 818.5,497 C816.5,504 816,510 817,515.5 C818,522 820,528 823,534 C826,541 831,546 836.5,552 C839,555 841,559 841.8,563.4 L842,572"/><path stroke="#ffff00" stroke-width="4" stroke-linecap="butt" d="M585.4,423.8 L622.9,444"/><path stroke="#ffff00" stroke-width="6.4" stroke-linecap="butt" transform="translate(0.3,-0.5)" d="M623.9,449.3 L821,567.2"/><path stroke="#ffff00" stroke-width="6.4" stroke-linecap="butt" transform="translate(0.3,-0.5)" d="M830,572 L884,600.5"/><path stroke="#ffff00" stroke-width="5" d="M886,599.5 C893,590 898,585 901.7,580.6 C906,574 909,568 912.8,562.5 C917,556 921,551 925.3,547.3 C930,543 935,541 940.6,540.3 C945,539.5 950,539.5 954.5,539.6 C962,540 968,541 972,543 L980.9,546"/><path stroke="#b07a4e" stroke-width="5.6" d="M949,245.7 C948,238 950,233 954,230 C958,227 965,226 970,226.3 C978,227 984,230 987.5,234 C991,238 993.5,242 994,248 C994.5,253 992,257 993,261 C994,265 997,267 1001,269 L1051.3,299"/><path stroke="#b07a4e" stroke-width="5.6" d="M642.8,417.8 C642,413 643,410 644.5,408.3 C646,405.5 649,404 652.2,403.9 C656,403.5 660,403.8 663.4,404.5 C667,405.3 671,406.8 674.5,408.9 C678,411 681,413.5 682.8,416.7 C685,420 686,423 686.1,426.1 C686.5,430 686.5,434 687.3,437.2 C688,440 690,441.5 693.9,442.8 L772,490"/><path stroke="#ffff00" stroke-width="5.6" d="M1089.6,634 C1091,640 1094,644 1098,646 C1104,649 1110,650 1120,649.5 L1140,648.5 C1160,646 1180,638 1202,631 L1254,610.6 C1262,608 1270,606 1275,606.5 M1281,612.7 C1286,616 1290,617 1296,617 C1306,616 1318,610 1327,602 C1336,594 1342,588 1343.6,581.6 C1345,572 1346,566 1347.8,561 C1352,552 1360,545 1368.6,540 L1377.7,531.5"/></g>
<g transform="translate(920,80) scale(0.180681)"><ellipse vector-effect="non-scaling-stroke" cx="1297" cy="1364" rx="28" ry="50" fill="#ffb0ff" stroke="#000" stroke-width="3.2"/></g>
<g transform="translate(660,340) scale(0.180681)"><ellipse vector-effect="non-scaling-stroke" cx="1248" cy="1145" rx="26" ry="50" fill="#ffb0ff" stroke="#000" stroke-width="3.2"/></g>
<g transform="translate(660,80) scale(0.180681)"><use href="#cn" x="1180" y="300" width="75" height="85"/><use href="#cf" x="1005" y="470" width="70" height="60"/><use href="#cf" x="945" y="585" width="70" height="50"/><use href="#cn" x="1195" y="540" width="65" height="70"/><use href="#cf" x="1320" y="630" width="90" height="75"/><use href="#cn" x="1140" y="675" width="75" height="95"/><use href="#cn" x="1125" y="855" width="70" height="90"/><use href="#cn" x="755" y="925" width="70" height="90"/><use href="#cf" x="1395" y="730" width="90" height="75"/><use href="#cf" x="270" y="1385" width="90" height="70"/></g>
<g transform="translate(920,80) scale(0.180681)"><use href="#cn" x="330" y="375" width="65" height="90"/><use href="#cn" x="210" y="445" width="75" height="80"/><use href="#cf" x="0" y="525" width="75" height="80"/><use href="#cf" x="105" y="625" width="85" height="75"/><use href="#cn" x="300" y="645" width="70" height="85"/><use href="#cf" x="450" y="675" width="95" height="75"/><use href="#cf" x="420" y="790" width="95" height="70"/><use href="#cf" x="420" y="865" width="95" height="70"/><use href="#cn" x="545" y="860" width="75" height="85"/><use href="#cf" x="295" y="925" width="90" height="75"/><use href="#cf" x="215" y="1030" width="85" height="80"/><use href="#cn" x="350" y="1130" width="70" height="90"/><use href="#cf" x="880" y="1150" width="100" height="85"/><use href="#cf" x="845" y="1230" width="90" height="80"/><use href="#cn" x="775" y="1275" width="70" height="85"/><use href="#cf" x="645" y="1305" width="95" height="80"/><use href="#cn" x="1260" y="1170" width="60" height="65"/><use href="#cf" x="1025" y="1365" width="85" height="75"/><use href="#cf" x="1155" y="1360" width="85" height="75"/></g>
<g transform="translate(1179,80) scale(0.180681)"><use href="#cf" x="160" y="1355" width="95" height="80"/><use href="#cf" x="280" y="1365" width="100" height="75"/><use href="#cn" x="460" y="1300" width="60" height="70"/></g>
<g transform="translate(660,340) scale(0.180681)"><use href="#cf" x="1055" y="85" width="110" height="120"/><use href="#cf" x="300" y="725" width="95" height="75"/><use href="#cf" x="740" y="755" width="100" height="75"/><use href="#cf" x="730" y="840" width="90" height="70"/><use href="#cn" x="760" y="905" width="60" height="65"/><use href="#cf" x="735" y="1015" width="95" height="75"/><use href="#cf" x="560" y="945" width="95" height="80"/><use href="#cf" x="1000" y="870" width="105" height="80"/><use href="#cn" x="960" y="955" width="65" height="75"/><use href="#cf" x="1030" y="1015" width="95" height="75"/><use href="#cf" x="1000" y="1125" width="80" height="70"/><use href="#cn" x="1215" y="895" width="70" height="80"/><use href="#cf" x="1110" y="1135" width="85" height="70"/><use href="#cf" x="1110" y="1215" width="85" height="70"/><use href="#cf" x="1400" y="1050" width="39" height="60"/></g>
<g transform="translate(800,380) scale(0.180681)"><use href="#cf" x="1330" y="140" width="90" height="75"/><use href="#cn" x="1280" y="220" width="70" height="80"/><use href="#cn" x="1180" y="265" width="55" height="70"/><use href="#cf" x="1140" y="385" width="85" height="90"/><use href="#cf" x="910" y="320" width="100" height="75"/><use href="#cf" x="915" y="410" width="90" height="80"/><use href="#cf" x="780" y="270" width="80" height="65"/><use href="#cn" x="960" y="715" width="70" height="80"/><use href="#cf" x="785" y="755" width="95" height="80"/><use href="#cf" x="1250" y="570" width="100" height="90"/><use href="#cn" x="1245" y="1080" width="75" height="90"/><use href="#cn" x="1325" y="1115" width="70" height="95"/><use href="#cf" x="1390" y="1030" width="49" height="80"/></g>
<g transform="translate(1060,340) scale(0.180681)"><use href="#cf" x="375" y="20" width="90" height="75"/><use href="#cf" x="985" y="165" width="100" height="85"/><use href="#cn" x="835" y="275" width="75" height="90"/><use href="#cn" x="1025" y="280" width="75" height="90"/><use href="#cn" x="700" y="375" width="70" height="95"/><use href="#cf" x="810" y="445" width="90" height="80"/><use href="#cf" x="870" y="495" width="90" height="75"/><use href="#cf" x="945" y="530" width="90" height="80"/><use href="#cf" x="550" y="560" width="100" height="85"/><use href="#cn" x="715" y="610" width="80" height="95"/><use href="#cn" x="160" y="760" width="70" height="95"/><use href="#cf" x="0" y="700" width="90" height="80"/><use href="#cf" x="0" y="815" width="55" height="100"/><use href="#cn" x="1320" y="255" width="80" height="90"/><use href="#cf" x="1130" y="960" width="110" height="80"/><use href="#cf" x="1240" y="1150" width="105" height="90"/><use href="#cf" x="1240" y="1230" width="105" height="90"/><use href="#cf" x="0" y="1250" width="50" height="85"/></g>
<g transform="translate(1179,340) scale(0.180681)"><use href="#cn" x="840" y="315" width="80" height="100"/><use href="#cf" x="975" y="325" width="120" height="110"/><use href="#cf" x="1190" y="630" width="80" height="70"/><use href="#cf" x="1160" y="700" width="90" height="65"/><use href="#cf" x="1120" y="765" width="90" height="65"/><use href="#cf" x="1080" y="820" width="85" height="70"/><use href="#cf" x="925" y="1010" width="100" height="85"/><use href="#cn" x="985" y="1250" width="60" height="100"/></g>
<g transform="translate(880,560) scale(0.180681)"><use href="#cn" x="800" y="80" width="80" height="100"/><use href="#cn" x="875" y="120" width="80" height="100"/><use href="#cf" x="945" y="30" width="100" height="80"/><use href="#cn" x="1150" y="210" width="60" height="80"/><use href="#cf" x="1335" y="300" width="90" height="90"/></g>
<g transform="translate(1140,540) scale(0.207783)"><use href="#cf" x="695" y="40" width="90" height="80"/><use href="#cf" x="700" y="110" width="85" height="70"/><use href="#cf" x="0" y="330" width="60" height="70"/><use href="#cf" x="80" y="300" width="70" height="70"/><use href="#cf" x="155" y="285" width="80" height="60"/><use href="#cn" x="550" y="430" width="60" height="70"/><use href="#cn" x="615" y="405" width="45" height="70"/><use href="#cn" x="1050" y="120" width="45" height="80"/><use href="#cf" x="960" y="240" width="60" height="60"/><use href="#cf" x="1050" y="275" width="50" height="60"/></g>
<g transform="translate(580,290) scale(0.180681)"><use href="#cn" x="355" y="140" width="80" height="60"/><use href="#cf" x="710" y="225" width="95" height="75"/><use href="#cf" x="830" y="310" width="95" height="65"/><use href="#cf" x="975" y="445" width="80" height="55"/><use href="#cf" x="1130" y="430" width="90" height="75"/><use href="#cn" x="1255" y="375" width="65" height="90"/><use href="#cn" x="1320" y="340" width="65" height="80"/><use href="#cn" x="495" y="445" width="75" height="80"/><use href="#cf" x="650" y="475" width="90" height="75"/><use href="#cf" x="620" y="660" width="90" height="70"/><use href="#cn" x="745" y="690" width="75" height="50"/><use href="#cf" x="915" y="735" width="80" height="55"/><use href="#cf" x="280" y="470" width="90" height="50"/><use href="#cf" x="1000" y="650" width="80" height="50"/></g>
</g>
<!-- leader line -->
<line x1="333" y1="309" x2="1013" y2="486.5" stroke="#fa0505" stroke-width="5.8"/>
<circle cx="1033" cy="490.5" r="16.3" fill="none" stroke="#fa0505" stroke-width="5.2"/>

<!-- top-left box -->
<rect x="13" y="24" width="319" height="341.7" rx="9" fill="#fff" stroke="#f2000a" stroke-width="3.6"/>
<text x="70" y="57.5" font-size="27" font-weight="bold" stroke="#000" stroke-width="0.7" textLength="199" lengthAdjust="spacingAndGlyphs">0920-306 REAR</text>
<text x="61" y="87" font-size="27" font-weight="bold" stroke="#000" stroke-width="0.7" textLength="219" lengthAdjust="spacingAndGlyphs">TWEETER LH (R)</text>

<!-- small connector -->
<g id="smallconn">
<path d="M97.5,240 V192.5 H113.6 V196.4 H156.7 V186.7 H177.8 V196.4 H237.2 V240 Z" fill="none" stroke="#000" stroke-width="2.8" stroke-linejoin="miter"/>
<rect x="101.1" y="200.9" width="132.2" height="35" fill="#000"/>
<rect x="103.9" y="203.7" width="40.3" height="29.4" fill="#ff7fbf"/>
<rect x="147.2" y="203.7" width="40.6" height="29.4" fill="#7f1fff"/>
<rect x="101.1" y="195.2" width="7.8" height="7" fill="#000"/>
<rect x="103.2" y="197.2" width="3.5" height="3.3" fill="#fff"/>
<rect x="160.9" y="190.6" width="13.8" height="12.4" fill="#000"/>
<rect x="162.8" y="192.4" width="10" height="9" fill="#fff"/>
<path d="M162.8,192.4 L172.8,201.4 M172.8,192.4 L162.8,201.4" stroke="#000" stroke-width="2"/>
<text x="124.9" y="224.4" font-size="13" font-weight="bold" text-anchor="middle" fill="#000">P</text>
<text x="167.5" y="224.4" font-size="13" font-weight="bold" text-anchor="middle" fill="#000">V</text>
<text x="210.5" y="224.4" font-size="13" font-weight="bold" text-anchor="middle" fill="#fff">B</text>
<text x="125.1" y="258.9" font-size="14" font-weight="bold" text-anchor="middle">A</text>
<text x="168.7" y="258.9" font-size="14" font-weight="bold" text-anchor="middle">B</text>
<text x="211.7" y="258.9" font-size="14" font-weight="bold" text-anchor="middle">C</text>
</g>

<!-- legend -->
<g id="legend">
<rect x="430.8" y="720.8" width="417.2" height="150.7" rx="11" fill="#fff" stroke="#000" stroke-width="3.2"/>
<rect x="442" y="733.4" width="78.6" height="20.8" fill="#ff00ff" stroke="#000" stroke-width="2.8"/>
<rect x="441.7" y="763.9" width="78.4" height="20.1" fill="#ffb0ff" stroke="#000" stroke-width="2.8"/>
<rect x="441.5" y="799.4" width="78.2" height="19.8" fill="#b07a4e" stroke="#000" stroke-width="2.8"/>
<rect x="441.5" y="832.8" width="78.1" height="20.8" fill="#ffff00" stroke="#000" stroke-width="2.8"/>
<text x="532.5" y="751.7" font-size="18.5" stroke="#000" stroke-width="0.45" textLength="279.5" lengthAdjust="spacingAndGlyphs">Interior Light Harness (IN1 &amp; IN2)</text>
<text x="533.5" y="782.5" font-size="18.5" stroke="#000" stroke-width="0.45" textLength="231.5" lengthAdjust="spacingAndGlyphs">Door Harness (DR1 &amp; DR2)</text>
<text x="534" y="817.8" font-size="18.5" stroke="#000" stroke-width="0.45" textLength="286.6" lengthAdjust="spacingAndGlyphs">Power Sliding Doors (DR3 &amp; DR4)</text>
<text x="533.4" y="852.2" font-size="18.5" stroke="#000" stroke-width="0.45" textLength="115" lengthAdjust="spacingAndGlyphs">Rear Harness</text>
</g>

<!-- big box -->
<rect x="136.8" y="1080.3" width="1221.2" height="909.7" rx="23" fill="none" stroke="#f2000a" stroke-width="3.6"/>
<text x="566" y="1114.4" font-size="27" font-weight="bold" stroke="#000" stroke-width="0.7" textLength="380.5" lengthAdjust="spacingAndGlyphs">0920-306 REAR TWEETER LH</text>
<text x="739.7" y="1143.5" font-size="27" font-weight="bold" stroke="#000" stroke-width="0.7" textLength="36.3" lengthAdjust="spacingAndGlyphs">(R)</text>

<!-- big connector -->
<g id="bigconn">
<path d="M510,1629 V1458.4 H566 V1477 H718 V1439.3 H792.7 V1477 H1001 V1629 Z" fill="none" stroke="#000" stroke-width="7.2" stroke-linejoin="round"/>
<rect x="525.6" y="1492.5" width="460.4" height="120" rx="2" fill="#000"/>
<rect x="532.5" y="1499.6" width="143.1" height="106" fill="#ff80bf"/>
<rect x="684.2" y="1499.6" width="143" height="106" fill="#7f1aff"/>
<path d="M529,1496 V1477 H547.2 V1496" fill="#fff" stroke="#000" stroke-width="7" stroke-linejoin="round"/>
<rect x="732.8" y="1454.2" width="44.8" height="42" rx="2" fill="#000"/>
<rect x="740.8" y="1461.4" width="30.2" height="31.2" fill="#fff"/>
<path d="M740.8,1461.4 L771,1492.6 M771,1461.4 L740.8,1492.6" stroke="#000" stroke-width="6.5"/>
<text x="608.5" y="1575" font-size="51.5" text-anchor="middle" fill="#000" stroke="#000" stroke-width="1">P</text>
<text x="754.6" y="1573.3" font-size="51.5" text-anchor="middle" fill="#000" stroke="#000" stroke-width="1">V</text>
<text x="905.4" y="1573.3" font-size="51.5" text-anchor="middle" fill="#fff" stroke="#fff" stroke-width="1">B</text>
<text x="607.2" y="1693" font-size="51.5" text-anchor="middle" stroke="#000" stroke-width="0.8">A</text>
<text x="759.3" y="1693" font-size="51.5" text-anchor="middle" stroke="#000" stroke-width="0.8">B</text>
<text x="910.7" y="1693" font-size="51.5" text-anchor="middle" stroke="#000" stroke-width="0.8">C</text>
</g>
</svg>
</body></html>
